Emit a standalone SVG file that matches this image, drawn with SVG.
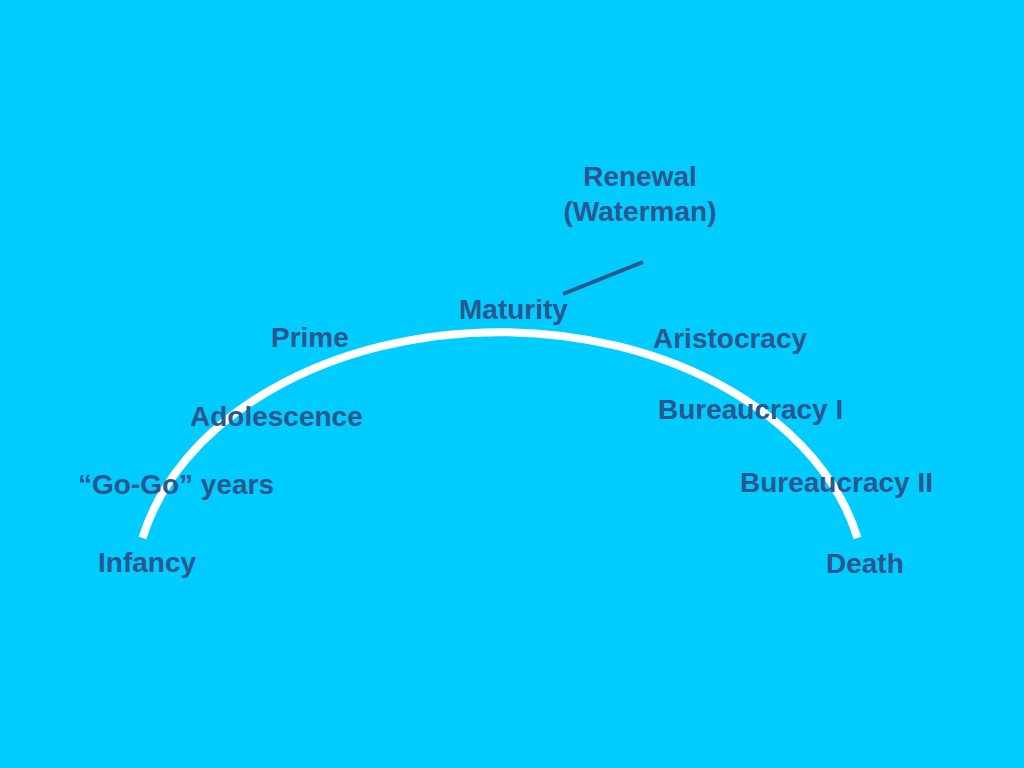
<svg xmlns="http://www.w3.org/2000/svg" width="1024" height="768" viewBox="0 0 1024 768">
<style>
.lbl{font-family:"Liberation Sans",Arial,sans-serif;font-weight:bold;font-size:28px;fill:#2B568E}
</style>
<rect width="1024" height="768" fill="#00CCFF"/>
<g id="connectors">
<path id="lifecycle-arc" d="M 142.5 538 A 366 262 0 0 1 857.5 538" fill="none" stroke="#FFFFFF" stroke-width="8"/>
<line id="renewal-line" x1="563" y1="294" x2="643" y2="262" stroke="#2B568E" stroke-width="4"/>
</g>
<g id="renewal"><text class="lbl" x="640" y="186" text-anchor="middle">Renewal</text><text class="lbl" x="640" y="221" text-anchor="middle">(Waterman)</text></g>
<g id="maturity"><text class="lbl" x="459" y="319">Maturity</text></g>
<g id="prime"><text class="lbl" x="271" y="347">Prime</text></g>
<g id="aristocracy"><text class="lbl" x="653" y="348">Aristocracy</text></g>
<g id="adolescence"><text class="lbl" x="190" y="426">Adolescence</text></g>
<g id="bureaucracy1"><text class="lbl" x="658" y="419">Bureaucracy I</text></g>
<g id="gogo"><text class="lbl" x="78" y="494">“Go-Go” years</text></g>
<g id="bureaucracy2"><text class="lbl" x="740" y="492">Bureaucracy II</text></g>
<g id="infancy"><text class="lbl" x="98" y="572">Infancy</text></g>
<g id="death"><text class="lbl" x="826" y="573">Death</text></g>
</svg>
